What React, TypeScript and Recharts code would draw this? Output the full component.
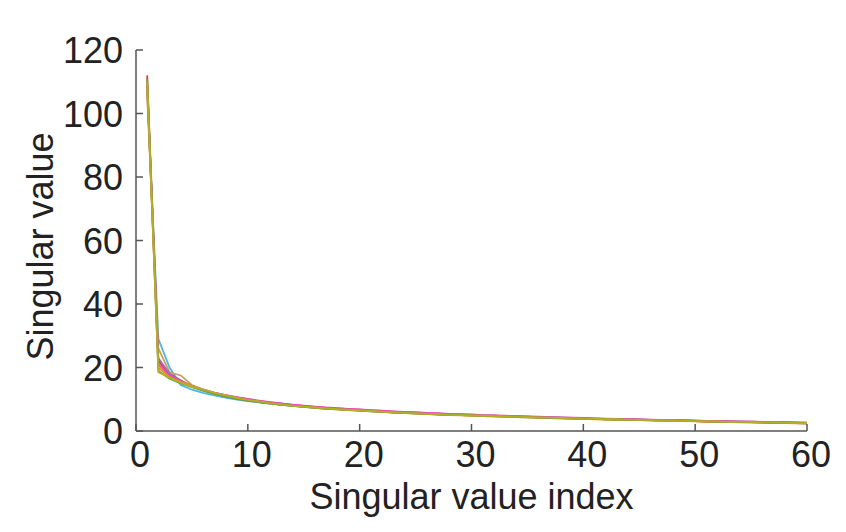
import { LineChart, Line, XAxis, YAxis, Label } from 'recharts';

// singular value index 1..60
const indices = Array.from({ length: 60 }, (_, i) => i + 1);

const xTicks = [0, 10, 20, 30, 40, 50, 60];
const yTicks = [0, 20, 40, 60, 80, 100, 120];

const svBlue = [
  107, 29, 20, 14.5, 13, 12, 11.2, 10.5, 9.9, 9.4,
  9.0, 8.6, 8.2, 7.9, 7.6, 7.3, 7.1, 6.9, 6.7, 6.5,
  6.3, 6.1, 5.9, 5.8, 5.6, 5.5, 5.3, 5.2, 5.1, 5.0,
  4.9, 4.8, 4.7, 4.6, 4.5, 4.4, 4.3, 4.2, 4.1, 4.0,
  3.9, 3.8, 3.7, 3.7, 3.6, 3.5, 3.4, 3.4, 3.3, 3.2,
  3.2, 3.1, 3.0, 3.0, 2.9, 2.8, 2.8, 2.7, 2.6, 2.6,
];
const svRed = [
  112, 22, 18, 16, 14, 12.8, 11.8, 10.9, 10.2, 9.6,
  9.1, 8.7, 8.3, 8.0, 7.7, 7.4, 7.1, 6.9, 6.7, 6.5,
  6.3, 6.1, 5.9, 5.7, 5.6, 5.4, 5.3, 5.1, 5.0, 4.9,
  4.8, 4.7, 4.6, 4.5, 4.4, 4.3, 4.2, 4.1, 4.0, 3.9,
  3.8, 3.7, 3.6, 3.6, 3.5, 3.4, 3.3, 3.3, 3.2, 3.1,
  3.0, 3.0, 2.9, 2.8, 2.8, 2.7, 2.6, 2.6, 2.5, 2.4,
];
const svOrange = [
  108, 20, 17, 15.5, 14.2, 13, 12, 11.1, 10.4, 9.7,
  9.2, 8.7, 8.3, 7.9, 7.6, 7.3, 7.0, 6.8, 6.6, 6.4,
  6.2, 6.0, 5.8, 5.6, 5.5, 5.3, 5.2, 5.0, 4.9, 4.8,
  4.7, 4.6, 4.5, 4.4, 4.3, 4.2, 4.1, 4.0, 3.9, 3.8,
  3.7, 3.6, 3.5, 3.5, 3.4, 3.3, 3.2, 3.2, 3.1, 3.0,
  2.9, 2.9, 2.8, 2.7, 2.7, 2.6, 2.5, 2.5, 2.4, 2.3,
];
const svTan = [
  106, 26, 18.5, 17.5, 14.5, 13, 12, 11.2, 10.5, 9.9,
  9.3, 8.9, 8.5, 8.1, 7.8, 7.5, 7.2, 7.0, 6.8, 6.6,
  6.4, 6.2, 6.0, 5.8, 5.7, 5.5, 5.4, 5.2, 5.1, 5.0,
  4.9, 4.8, 4.7, 4.5, 4.4, 4.3, 4.2, 4.1, 4.0, 3.9,
  3.8, 3.8, 3.7, 3.6, 3.5, 3.4, 3.4, 3.3, 3.2, 3.1,
  3.1, 3.0, 2.9, 2.9, 2.8, 2.7, 2.7, 2.6, 2.5, 2.5,
];
const svMagenta = [
  110, 21, 17.5, 15.5, 14, 12.9, 12, 11.3, 10.7, 10.1,
  9.6, 9.1, 8.7, 8.3, 8.0, 7.7, 7.4, 7.2, 7.0, 6.8,
  6.6, 6.4, 6.2, 6.0, 5.9, 5.7, 5.6, 5.4, 5.3, 5.2,
  5.0, 4.9, 4.8, 4.7, 4.6, 4.5, 4.4, 4.3, 4.2, 4.1,
  4.0, 3.9, 3.8, 3.8, 3.7, 3.6, 3.5, 3.5, 3.4, 3.3,
  3.2, 3.2, 3.1, 3.0, 3.0, 2.9, 2.8, 2.8, 2.7, 2.6,
];
const svPurple = [
  109, 23, 18, 15.8, 14.2, 13.1, 12.1, 11.3, 10.6, 10.0,
  9.4, 9.0, 8.6, 8.2, 7.9, 7.6, 7.3, 7.1, 6.9, 6.7,
  6.5, 6.3, 6.1, 5.9, 5.8, 5.6, 5.5, 5.3, 5.2, 5.1,
  4.9, 4.8, 4.7, 4.6, 4.5, 4.4, 4.3, 4.2, 4.1, 4.0,
  3.9, 3.8, 3.8, 3.7, 3.6, 3.5, 3.4, 3.4, 3.3, 3.2,
  3.2, 3.1, 3.0, 2.9, 2.9, 2.8, 2.7, 2.7, 2.6, 2.5,
];
const svGreen = [
  111, 19, 16.5, 15, 13.8, 12.7, 11.7, 10.9, 10.2, 9.6,
  9.1, 8.6, 8.2, 7.9, 7.6, 7.3, 7.0, 6.8, 6.6, 6.4,
  6.2, 6.0, 5.8, 5.7, 5.5, 5.4, 5.2, 5.1, 5.0, 4.9,
  4.7, 4.6, 4.5, 4.4, 4.3, 4.2, 4.1, 4.0, 3.9, 3.8,
  3.8, 3.7, 3.6, 3.5, 3.4, 3.4, 3.3, 3.2, 3.2, 3.1,
  3.0, 2.9, 2.9, 2.8, 2.7, 2.7, 2.6, 2.5, 2.5, 2.4,
];
const svOlive = [
  110, 18.5, 16.8, 15.2, 14, 13, 12, 11.2, 10.4, 9.8,
  9.3, 8.8, 8.4, 8.0, 7.7, 7.4, 7.1, 6.9, 6.7, 6.5,
  6.3, 6.1, 5.9, 5.7, 5.6, 5.4, 5.3, 5.1, 5.0, 4.9,
  4.8, 4.7, 4.6, 4.5, 4.4, 4.3, 4.2, 4.1, 4.0, 3.9,
  3.8, 3.7, 3.7, 3.6, 3.5, 3.4, 3.3, 3.3, 3.2, 3.1,
  3.1, 3.0, 2.9, 2.9, 2.8, 2.7, 2.7, 2.6, 2.5, 2.5,
];

const series = [
  { key: 'blue', values: svBlue, color: '#4fb4e6' },
  { key: 'red', values: svRed, color: '#e63a30' },
  { key: 'tan', values: svTan, color: '#c9a055' },
  { key: 'purple', values: svPurple, color: '#9a6cd2' },
  { key: 'magenta', values: svMagenta, color: '#e64aa6' },
  { key: 'orange', values: svOrange, color: '#f08c2a' },
  { key: 'green', values: svGreen, color: '#5aa84c' },
  { key: 'olive', values: svOlive, color: '#b9ae22' },
];

const rows = indices.map((x, i) => {
  const row: Record<string, number> = { x };
  series.forEach(s => { row[s.key] = s.values[i]; });
  return row;
});

const FONT = '"Liberation Sans", Arial, Helvetica, sans-serif';
const FS = 36;
const AXIS = '#555';

const XTick = (props: any) => {
  const { x, y, payload } = props;
  return (
    <g>
      <line x1={x} y1={y} x2={x} y2={y - 7} stroke={AXIS} strokeWidth={1.5} />
      <text x={x + 4} y={y + 36} textAnchor="middle" fontSize={FS} fontFamily={FONT} fill="#222">{payload.value}</text>
    </g>
  );
};

const YTick = (props: any) => {
  const { x, y, payload } = props;
  return (
    <g>
      <line x1={x} y1={y} x2={x + 7} y2={y} stroke={AXIS} strokeWidth={1.5} />
      <text x={x - 13} y={y + 13} textAnchor="end" fontSize={FS} fontFamily={FONT} fill="#222">{payload.value}</text>
    </g>
  );
};

const YTitle = (props: any) => {
  const vb = props.viewBox;
  const cx = 53;
  const cy = vb.y + vb.height / 2 + 6;
  return (
    <text x={cx} y={cy} transform={`rotate(-90, ${cx}, ${cy})`} textAnchor="middle" fontSize={FS} fontFamily={FONT} fill="#222">
      Singular value
    </text>
  );
};

export default function App() {
  return (
    <div style={{ position: 'absolute', left: 0, top: 0, width: 846, height: 532, background: '#fff' }}>
      <LineChart width={846} height={532} data={rows} margin={{ top: 50, right: 39, bottom: 0, left: 0 }}>
        <XAxis
          dataKey="x"
          type="number"
          domain={[0, 60]}
          ticks={xTicks}
          interval={0}
          height={101}
          tickSize={0}
          tickMargin={0}
          tickLine={false}
          tick={<XTick />}
          axisLine={{ stroke: AXIS, strokeWidth: 1.5 }}
        >
          <Label value="Singular value index" position="insideBottom" offset={23} fontSize={FS} fontFamily={FONT} fill="#222" />
        </XAxis>
        <YAxis
          type="number"
          domain={[0, 120]}
          ticks={yTicks}
          interval={0}
          width={136}
          tickSize={0}
          tickMargin={0}
          tickLine={false}
          tick={<YTick />}
          axisLine={{ stroke: AXIS, strokeWidth: 1.5 }}
        >
          <Label content={<YTitle />} />
        </YAxis>
        {series.map(s => (
          <Line
            key={s.key}
            dataKey={s.key}
            stroke={s.color}
            strokeWidth={1.8}
            dot={false}
            isAnimationActive={false}
            type="linear"
          />
        ))}
      </LineChart>
    </div>
  );
}
